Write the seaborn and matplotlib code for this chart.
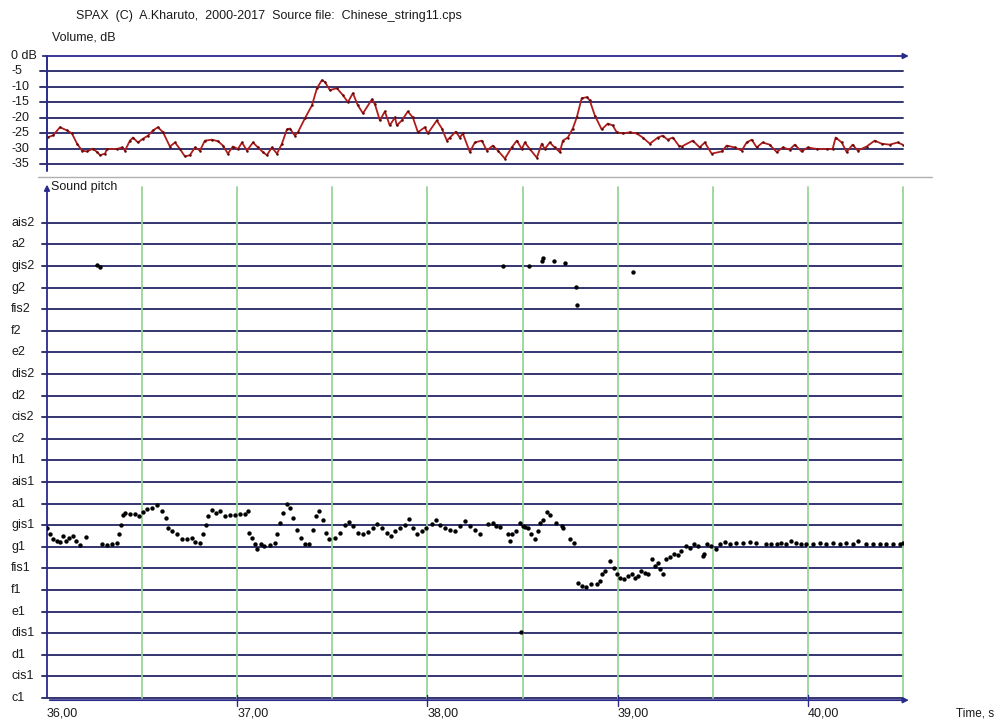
import matplotlib
matplotlib.use('Agg')
import matplotlib.pyplot as plt
from matplotlib.lines import Line2D
from matplotlib.transforms import blended_transform_factory
import seaborn as sns
import pandas as pd

# ---------------- data ----------------
vol_time = [36.005, 36.032, 36.068, 36.105, 36.131, 36.158, 36.184, 36.210, 36.242, 36.263,
            36.279, 36.305, 36.315, 36.368, 36.394, 36.410, 36.436, 36.452, 36.478, 36.504,
            36.531, 36.557, 36.583, 36.610, 36.646, 36.673, 36.699, 36.725, 36.751, 36.778,
            36.804, 36.830, 36.867, 36.899, 36.925, 36.951, 36.977, 37.004, 37.025, 37.051,
            37.083, 37.109, 37.135, 37.156, 37.182, 37.209, 37.235, 37.261, 37.277, 37.303,
            37.319, 37.356, 37.393, 37.419, 37.445, 37.461, 37.487, 37.524, 37.555, 37.582,
            37.608, 37.634, 37.661, 37.708, 37.724, 37.750, 37.776, 37.802, 37.829, 37.839,
            37.865, 37.897, 37.923, 37.950, 37.986, 38.002, 38.049, 38.076, 38.102, 38.118,
            38.149, 38.170, 38.186, 38.223, 38.249, 38.286, 38.312, 38.344, 38.370, 38.407,
            38.443, 38.470, 38.496, 38.512, 38.538, 38.575, 38.601, 38.617, 38.643, 38.669,
            38.696, 38.712, 38.738, 38.764, 38.785, 38.811, 38.838, 38.853, 38.880, 38.916,
            38.948, 38.974, 38.995, 39.027, 39.064, 39.100, 39.132, 39.169, 39.211, 39.237,
            39.263, 39.290, 39.321, 39.337, 39.395, 39.431, 39.458, 39.494, 39.547, 39.573,
            39.615, 39.652, 39.678, 39.705, 39.731, 39.762, 39.799, 39.836, 39.868, 39.904,
            39.931, 39.967, 39.999, 40.046, 40.099, 40.130, 40.146, 40.178, 40.204, 40.235,
            40.262, 40.309, 40.351, 40.388, 40.430, 40.472, 40.498]
vol_db = [-26.2, -25.6, -23.0, -24.0, -25.0, -28.3, -30.5, -30.8, -29.9, -31.0,
          -32.0, -31.5, -30.0, -30.0, -29.5, -30.5, -27.3, -26.3, -27.9, -26.7,
          -25.7, -24.0, -23.0, -24.6, -29.2, -27.9, -30.0, -32.4, -32.0, -29.5,
          -30.5, -27.3, -27.0, -27.5, -28.9, -31.5, -29.2, -30.0, -27.9, -30.5,
          -27.9, -29.5, -31.0, -32.0, -29.5, -31.5, -28.3, -23.7, -23.4, -25.7,
          -24.6, -20.1, -15.9, -10.4, -7.8, -8.4, -11.0, -10.4, -12.6, -14.9,
          -12.0, -15.9, -18.5, -14.0, -15.6, -20.8, -17.9, -22.4, -19.8, -22.4,
          -20.8, -17.9, -19.8, -24.6, -23.0, -25.0, -20.8, -23.4, -27.3, -26.3,
          -24.4, -26.3, -25.0, -31.0, -27.9, -27.3, -30.5, -28.9, -30.5, -33.1,
          -29.5, -27.3, -30.0, -27.9, -30.0, -32.8, -28.3, -30.0, -27.9, -29.5,
          -31.0, -27.3, -26.3, -23.4, -19.8, -13.6, -13.3, -14.3, -19.2, -23.7,
          -21.8, -22.4, -24.6, -25.0, -24.6, -25.0, -26.3, -28.3, -26.3, -25.7,
          -27.0, -26.3, -28.9, -29.2, -27.3, -29.5, -27.9, -31.5, -30.8, -28.9,
          -29.5, -30.5, -27.9, -27.0, -29.5, -27.9, -28.6, -31.0, -29.5, -30.2,
          -28.6, -30.8, -29.5, -30.0, -30.0, -30.0, -26.3, -27.9, -31.0, -28.6,
          -30.5, -29.2, -27.3, -28.3, -28.6, -27.9, -28.6]

# pitch in semitones above c1 (c1 = 0)
pitch_time = [36.000, 36.016, 36.033, 36.051, 36.068, 36.086, 36.100, 36.117, 36.135, 36.152,
              36.173, 36.205, 36.287, 36.314, 36.340, 36.366, 36.380, 36.387, 36.398, 36.410,
              36.436, 36.462, 36.485, 36.503, 36.524, 36.550, 36.576, 36.603, 36.625, 36.637,
              36.655, 36.682, 36.708, 36.734, 36.760, 36.778, 36.804, 36.821, 36.836, 36.848,
              36.865, 36.888, 36.909, 36.935, 36.962, 36.988, 37.014, 37.041, 37.058, 37.063,
              37.076, 37.093, 37.105, 37.123, 37.140, 37.172, 37.198, 37.210, 37.224, 37.239,
              37.260, 37.277, 37.294, 37.312, 37.333, 37.356, 37.378, 37.396, 37.414, 37.431,
              37.449, 37.466, 37.484, 37.513, 37.540, 37.566, 37.589, 37.610, 37.636, 37.662,
              37.688, 37.715, 37.736, 37.759, 37.785, 37.811, 37.829, 37.855, 37.881, 37.904,
              37.922, 37.943, 37.969, 37.995, 38.022, 38.044, 38.065, 38.092, 38.118, 38.144,
              38.170, 38.197, 38.223, 38.249, 38.275, 38.319, 38.345, 38.363, 38.384, 38.424,
              38.433, 38.447, 38.468, 38.486, 38.500, 38.512, 38.529, 38.547, 38.564, 38.582,
              38.594, 38.608, 38.626, 38.643, 38.675, 38.705, 38.713, 38.748, 38.769, 38.792,
              38.815, 38.836, 38.862, 38.889, 38.906, 38.920, 38.932, 38.959, 38.980, 38.994,
              39.011, 39.032, 39.055, 39.073, 39.090, 39.107, 39.125, 39.143, 39.160, 39.183,
              39.195, 39.212, 39.225, 39.239, 39.253, 39.274, 39.295, 39.318, 39.335, 39.358,
              39.379, 39.400, 39.423, 39.449, 39.453, 39.470, 39.493, 39.516, 39.537, 39.563,
              39.589, 39.624, 39.659, 39.694, 39.726, 39.778, 39.808, 39.835, 39.861, 39.887,
              39.913, 39.940, 39.966, 39.992, 40.027, 40.062, 40.097, 40.132, 40.167, 40.202,
              40.237, 40.263, 40.308, 40.343, 40.378, 40.413, 40.447, 40.483, 40.500,
              36.261, 36.279, 38.395, 38.533, 38.600, 38.608, 38.664, 38.722, 38.780, 38.784,
              39.078, 38.491]
pitch_semitone = [7.88, 7.57, 7.34, 7.26, 7.23, 7.49, 7.26, 7.42, 7.49, 7.26,
                  7.08, 7.45, 7.14, 7.08, 7.11, 7.18, 7.57, 8.03, 8.49, 8.57,
                  8.52, 8.52, 8.42, 8.62, 8.77, 8.80, 8.92, 8.65, 8.34, 7.88,
                  7.72, 7.60, 7.34, 7.34, 7.42, 7.22, 7.18, 7.57, 8.03, 8.42,
                  8.72, 8.57, 8.65, 8.42, 8.46, 8.46, 8.52, 8.52, 8.65, 7.65,
                  7.42, 7.11, 6.92, 7.14, 7.03, 7.08, 7.18, 7.57, 8.11, 8.57,
                  8.98, 8.80, 8.34, 7.80, 7.42, 7.11, 7.11, 7.80, 8.42, 8.68,
                  8.26, 7.65, 7.38, 7.42, 7.65, 8.03, 8.15, 7.95, 7.65, 7.57,
                  7.69, 7.88, 8.06, 7.88, 7.65, 7.49, 7.72, 7.88, 8.03, 8.31,
                  7.88, 7.57, 7.72, 7.88, 8.06, 8.22, 8.00, 7.88, 7.80, 7.72,
                  7.95, 8.18, 7.95, 7.80, 7.57, 8.06, 8.11, 7.95, 7.90, 7.57,
                  7.26, 7.57, 7.75, 8.11, 7.95, 7.90, 7.88, 7.57, 7.34, 7.72,
                  8.11, 8.26, 8.62, 8.46, 8.11, 7.95, 7.85, 7.34, 7.18, 5.34,
                  5.18, 5.14, 5.26, 5.29, 5.42, 5.72, 5.88, 6.34, 6.00, 5.75,
                  5.57, 5.49, 5.65, 5.72, 5.57, 5.65, 5.88, 5.80, 5.72, 6.42,
                  6.11, 6.26, 5.95, 5.72, 6.42, 6.52, 6.65, 6.62, 6.80, 7.03,
                  6.95, 7.11, 7.03, 6.57, 6.68, 7.11, 7.03, 6.88, 7.11, 7.23,
                  7.11, 7.18, 7.18, 7.23, 7.18, 7.11, 7.14, 7.11, 7.18, 7.14,
                  7.29, 7.18, 7.11, 7.14, 7.14, 7.18, 7.14, 7.18, 7.11, 7.18,
                  7.11, 7.26, 7.14, 7.14, 7.11, 7.14, 7.11, 7.14, 7.18,
                  20.05, 19.95, 20.01, 20.00, 20.25, 20.36, 20.25, 20.12, 19.01, 18.19,
                  19.70, 3.05]

vol_ticks = [0, -5, -10, -15, -20, -25, -30, -35]
vol_tick_labels = ['0 dB', '-5', '-10', '-15', '-20', '-25', '-30', '-35']
pitch_labels = ['c1', 'cis1', 'd1', 'dis1', 'e1', 'f1', 'fis1', 'g1', 'gis1', 'a1', 'ais1',
                'h1', 'c2', 'cis2', 'd2', 'dis2', 'e2', 'f2', 'fis2', 'g2', 'gis2', 'a2', 'ais2']
time_ticks = [36, 37, 38, 39, 40]
time_tick_labels = ['36,00', '37,00', '38,00', '39,00', '40,00']
grid_times = [36.5, 37.0, 37.5, 38.0, 38.5, 39.0, 39.5, 40.0, 40.5]

header = 'SPAX  (C)  A.Kharuto,  2000-2017  Source file:  Chinese_string11.cps'

# ---------------- figure ----------------
sns.set_theme(style='white')
plt.rcParams['font.family'] = ['Liberation Sans', 'DejaVu Sans']

W, H = 997, 722
fig = plt.figure(figsize=(W / 100, H / 100), dpi=100)
fig.patch.set_facecolor('white')

def px_axes(l, t, r, b):
    return fig.add_axes([l / W, 1 - b / H, (r - l) / W, (b - t) / H])

NAVY = '#343470'
AXBLUE = '#2a2a8a'
GREEN = '#98d498'
TXT = '#1a1a1a'
FS = 9.0

X0, X1 = 36.0, 40.5
XL = 36.0 - 7 / 190.3
XARROW = 36.0 + (912 - 47) / 190.3

# ---- volume panel ----
ax1 = px_axes(47, 56, 903, 171)
df_vol = pd.DataFrame({'t': vol_time, 'db': vol_db})
sns.lineplot(data=df_vol, x='t', y='db', ax=ax1, color='#b01c1c', lw=1.3,
             sort=False, estimator=None, marker='o', markersize=1.8,
             markeredgewidth=0, markerfacecolor='#5a0808', zorder=5)
ax1.set_xlim(X0, X1)
ax1.set_ylim(-37.1, 0)
ax1.axis('off')
for v in vol_ticks[1:]:
    ax1.plot([XL, X1], [v, v], color=NAVY, lw=1.4, clip_on=False, zorder=1)
ax1.annotate('', xy=(XARROW, 0), xytext=(XL, 0), annotation_clip=False,
             arrowprops=dict(arrowstyle='-|>', color=AXBLUE, lw=1.3, mutation_scale=8))
ax1.plot([X0, X0], [0, -37.1], color=AXBLUE, lw=1.4, clip_on=False, zorder=2)
tr1 = blended_transform_factory(fig.transFigure, ax1.transData)
for v, lab in zip(vol_ticks, vol_tick_labels):
    ax1.text(11 / W, v, lab, transform=tr1, ha='left', va='center', fontsize=FS, color=TXT)

# ---- pitch panel ----
ax2 = px_axes(47, 185, 903, 698)
df_p = pd.DataFrame({'t': pitch_time, 's': pitch_semitone})
sns.scatterplot(data=df_p, x='t', y='s', ax=ax2, color='black', s=10, linewidth=0, zorder=5)
ax2.set_xlim(X0, X1)
ax2.set_ylim(0, 23.75)
ax2.axis('off')
for i in range(len(pitch_labels)):
    ax2.plot([XL + 2 / 190.3, X1], [i, i], color=NAVY, lw=1.4, clip_on=False, zorder=1)
for g in grid_times:
    ax2.plot([g, g], [0, 23.65], color=GREEN, lw=1.3, clip_on=False, zorder=2)
ax2.annotate('', xy=(X0, 23.9), xytext=(X0, -0.1), annotation_clip=False,
             arrowprops=dict(arrowstyle='-|>', color=AXBLUE, lw=1.3, mutation_scale=8))
ax2.annotate('', xy=(XARROW, -0.1), xytext=(X0, -0.1), annotation_clip=False,
             arrowprops=dict(arrowstyle='-|>', color=AXBLUE, lw=1.3, mutation_scale=8))
for t in time_ticks[1:]:
    ax2.plot([t, t], [0.15, -0.35], color=AXBLUE, lw=1.0, clip_on=False, zorder=3)
tr2 = blended_transform_factory(fig.transFigure, ax2.transData)
for i, lab in enumerate(pitch_labels):
    ax2.text(11 / W, i, lab, transform=tr2, ha='left', va='center', fontsize=FS, color=TXT)
tr2x = blended_transform_factory(ax2.transData, fig.transFigure)
for t, lab in zip(time_ticks, time_tick_labels):
    ax2.text(t, 1 - 713 / H, lab, transform=tr2x, ha='left', va='center', fontsize=FS, color=TXT)

# ---- frame texts ----
fig.add_artist(Line2D([38 / W, 932 / W], [1 - 177 / H, 1 - 177 / H],
                      transform=fig.transFigure, color='#b0b0b0', lw=1.0))
fig.text(51 / W, 1 - 187 / H, 'Sound pitch', ha='left', va='center', fontsize=FS, color=TXT,
         bbox=dict(facecolor='white', edgecolor='none', pad=1.0))
fig.text(76 / W, 1 - 16 / H, header, ha='left', va='center', fontsize=FS, color=TXT)
fig.text(52 / W, 1 - 38 / H, 'Volume, dB', ha='left', va='center', fontsize=FS, color=TXT)
fig.text(994 / W, 1 - 713 / H, 'Time, s', ha='right', va='center', fontsize=8.5, color=TXT)

fig.savefig('out.png', dpi=100, facecolor='white')
